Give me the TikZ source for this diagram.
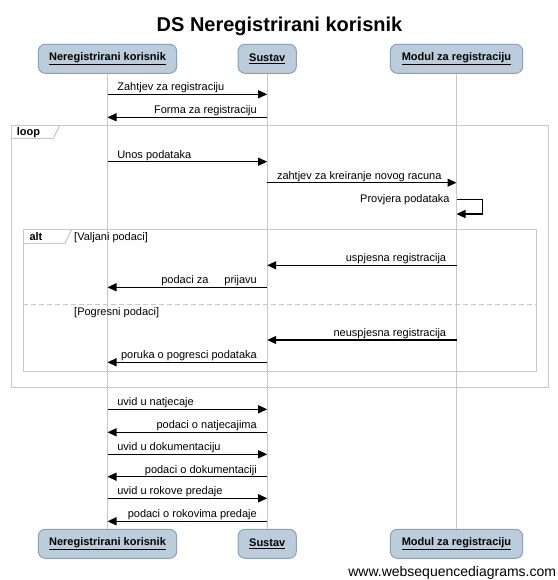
\documentclass[tikz,border=0pt]{standalone}
\usepackage{fontspec}
\setmainfont{Liberation Sans}
\usetikzlibrary{arrows.meta}
\definecolor{boxfill}{RGB}{187,204,218}
\definecolor{boxdraw}{RGB}{140,160,188}
\definecolor{framegray}{RGB}{200,200,200}
\newcommand\sz[1]{\fontsize{#1}{#1}\selectfont}
\newcommand\msgR[4]{\draw[msg] (#1|-0,#3) -- node[lbl,pos=0,anchor=base west,xshift=9.2pt,yshift=3.6pt]{#4} (#2|-0,#3);}
\newcommand\msgL[4]{\draw[msg] (#1|-0,#3) -- node[lbl,pos=0,anchor=base east,xshift=-9.8pt,yshift=3.6pt]{#4} (#2|-0,#3);}
\begin{document}
\begin{tikzpicture}[x=1pt,y=-1pt,
  part/.style={draw=boxdraw,fill=boxfill,rounded corners=7pt,line width=1pt,
    minimum height=29pt,inner sep=0pt,font=\sz{11}\bfseries},
  lifeline/.style={draw=framegray,line width=1pt},
  frame/.style={draw=framegray,line width=1pt},
  msg/.style={line width=1.2pt,-{Triangle[length=9pt,width=8pt]}},
  lbl/.style={inner sep=0pt,font=\sz{11}},
  flbl/.style={inner sep=0pt,font=\sz{11}\bfseries,anchor=base west},
  glbl/.style={inner sep=0pt,font=\sz{11},anchor=base west}]
\useasboundingbox (0,0) rectangle (557,580);
\fill[white] (0,0) rectangle (557,580);

% title
\node[inner sep=0pt,anchor=base,font=\sz{20}\bfseries] (title) at (279.5,31.7) {DS Neregistrirani korisnik};

% participants
\node[part,minimum width=138.4pt] (t1) at (107.5,58.8) {\underline{Neregistrirani korisnik}};
\node[part,minimum width=58.3pt] (t2) at (267.2,58.8) {\underline{Sustav}};
\node[part,minimum width=132.4pt] (t3) at (456.5,58.8) {\underline{Modul za registraciju}};
\node[part,minimum width=138.4pt] (b1) at (107.5,543.8) {\underline{Neregistrirani korisnik}};
\node[part,minimum width=58.3pt] (b2) at (267.2,543.8) {\underline{Sustav}};
\node[part,minimum width=132.4pt] (b3) at (456.5,543.8) {\underline{Modul za registraciju}};

% lifelines
\draw[lifeline] (t1.south) -- (b1.north);
\draw[lifeline] (t2.south) -- (b2.north);
\draw[lifeline] (t3.south) -- (b3.north);

% frames
\draw[frame] (11.7,126) rectangle (548,387);
\draw[frame] (11.7,138.3) -- (53.3,138.3) -- (59.3,126);
\node[flbl] (loopl) at (16.7,136) {loop};
\draw[frame] (23.3,229.3) rectangle (536.3,371);
\draw[frame] (23.3,243.3) -- (65,243.3) -- (71.7,229.3);
\node[flbl] (altl) at (29.3,240.7) {alt};
\node[glbl] (g1) at (74,240.7) {[Valjani podaci]};
\draw[frame,dash pattern=on 5pt off 3pt] (23.3,304.3) -- (536.3,304.3);
\node[glbl] (g2) at (74,315.7) {[Pogresni podaci]};

% messages
\msgR{t1}{t2}{94.3}{Zahtjev za registraciju}
\msgL{t2}{t1}{117.3}{Forma za registraciju}
\msgR{t1}{t2}{161.7}{Unos podataka}
\msgR{t2}{t3}{182.7}{zahtjev za kreiranje novog racuna}
\coordinate (s1) at (482.7,199.5);
\coordinate (s2) at (482.7,214);
\draw[msg] (t3|-0,199.5) -- (s1) -- (s2) -- (t3|-0,214);
\node[lbl,anchor=base east] (selfl) at (449.7,202.3) {Provjera podataka};
\msgL{t3}{t2}{265.3}{uspjesna registracija}
\msgL{t2}{t1}{287.3}{podaci za\hspace{16pt}prijavu}
\msgL{t3}{t2}{340}{neuspjesna registracija}
\msgL{t2}{t1}{362.3}{poruka o pogresci podataka}
\msgR{t1}{t2}{409.3}{uvid u natjecaje}
\msgL{t2}{t1}{432.3}{podaci o natjecajima}
\msgR{t1}{t2}{454.3}{uvid u dokumentaciju}
\msgL{t2}{t1}{476.7}{podaci o dokumentaciji}
\msgR{t1}{t2}{498.3}{uvid u rokove predaje}
\msgL{t2}{t1}{521.3}{podaci o rokovima predaje}

% watermark
\node[inner sep=0pt,anchor=base east,font=\sz{14}] (wm) at (556.3,576.7) {www.websequencediagrams.com};
\end{tikzpicture}
\end{document}
